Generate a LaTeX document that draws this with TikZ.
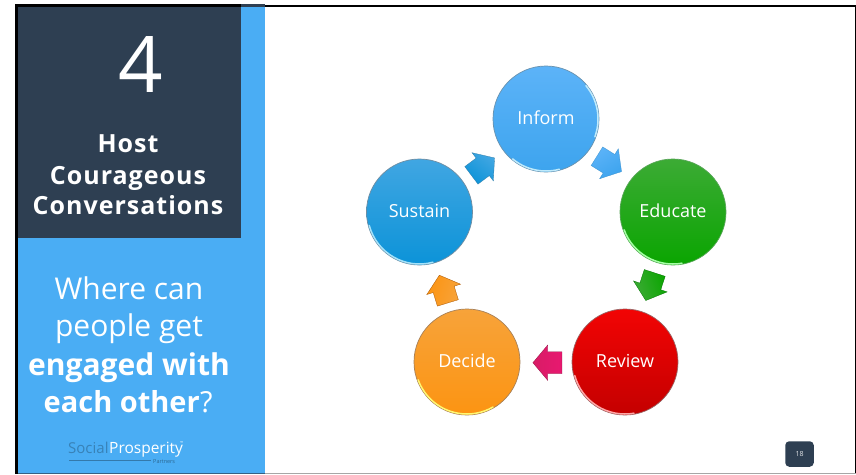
\documentclass[tikz,border=0pt]{standalone}
\usepackage{fontspec}
\setmainfont{Open Sans}
\usetikzlibrary{shapes.arrows}
\definecolor{navy}{HTML}{2E3F52}
\definecolor{sky}{HTML}{4AADF4}
\definecolor{informtop}{HTML}{5CB3F8}
\definecolor{informbot}{HTML}{3DA4EE}
\definecolor{sustaintop}{HTML}{40A6E2}
\definecolor{sustainbot}{HTML}{0C93D8}
\definecolor{educatetop}{HTML}{3CAB35}
\definecolor{educatebot}{HTML}{0AA500}
\definecolor{reviewtop}{HTML}{F20404}
\definecolor{reviewbot}{HTML}{C40000}
\definecolor{decidetop}{HTML}{F7A33A}
\definecolor{decidebot}{HTML}{FC9412}
\definecolor{pinktail}{HTML}{D81C66}
\definecolor{pinktip}{HTML}{E81870}
\newcommand\balltext[1]{\raisebox{-5.5pt}[0pt][0pt]{#1}}
\tikzset{
  x=1pt,y=-1pt,
  ball/.style={circle,minimum size=106pt,inner sep=0pt,draw=#1,line width=0.7pt,text=white,font=\fontsize{18}{20}\selectfont},
  blockarrow/.style={single arrow,anchor=tip,minimum height=29pt,inner xsep=0pt,inner ysep=10.8pt,single arrow head extend=6.7pt,single arrow head indent=0pt,single arrow tip angle=100,draw=#1,line width=0.3pt},
  rim/.style={line width=1.5pt,line cap=round},
  heading/.style={text=white,align=center,anchor=base,inner sep=0pt},
}
\begin{document}
\begin{tikzpicture}
\useasboundingbox (0,0) rectangle (856,474);
\fill[white] (0,0) rectangle (856,474);
% slide frame
\fill[sky] (17.5,7) rectangle (265,473);
\fill[navy] (17.5,7) rectangle (241,238);
\fill[black] (15,4) rectangle (241,7);
\fill[navy] (241,4) rectangle (265,7);
\fill[black] (265,4.5) rectangle (856,6.5);
\fill[black] (15,4) rectangle (17.5,474);
\fill[black] (855,4.5) rectangle (856,473);
\fill[gray!70] (265,473) rectangle (856,474);
\fill[navy!70!sky] (17.5,473) rectangle (265,474);
% left texts
\node[heading,font=\fontsize{78}{78}\selectfont] (num) at (141,92) {4};
\node[heading,font=\bfseries\addfontfeature{LetterSpace=4}\fontsize{25}{25}\selectfont] (t1) at (128,152) {Host};
\node[heading,font=\bfseries\addfontfeature{LetterSpace=4}\fontsize{25}{25}\selectfont] (t2) at (128,184) {Courageous};
\node[heading,font=\bfseries\addfontfeature{LetterSpace=4}\fontsize{25}{25}\selectfont] (t3) at (128,214) {Conversations};
\node[heading,font=\fontsize{30}{30}\selectfont] (q1) at (129,299) {Where can};
\node[heading,font=\fontsize{30}{30}\selectfont] (q2) at (129,336) {people get};
\node[heading,font=\bfseries\fontsize{30}{30}\selectfont] (q3) at (129,375.5) {engaged with};
\node[heading,anchor=base east,font=\bfseries\fontsize{29}{30}\selectfont] (q4) at (200,412) {each other};
\node[heading,anchor=base west,font=\fontsize{29}{30}\selectfont] (q5) at (q4.base east) {?};
% logo
\node[anchor=base west,inner sep=0pt,text=black!25!sky,font=\fontsize{15}{15}\selectfont] (lg1) at (68,453) {Social};
\node[anchor=base west,inner sep=0pt,text=white,font=\fontsize{15.5}{15}\selectfont] (lg2) at (109,453) {Prosperity};
\node[anchor=base west,inner sep=0pt,text=white,font=\fontsize{4}{4}\selectfont] (lg4) at (180,444) {™};
\node[anchor=base west,inner sep=0pt,text=black!40!sky,font=\fontsize{5.5}{6}\selectfont] (lg3) at (153,463) {Partners};
\fill[black!30!sky] (69,460.2) rectangle (151,461.2);
% cycle
\node[ball=gray!60!sky,top color=informtop,bottom color=informbot] (inform) at (546,119) {\balltext{Inform}};
\node[ball=gray!70!sky,top color=sustaintop,bottom color=sustainbot] (sustain) at (419.5,212) {\balltext{Sustain}};
\node[ball=gray!70!green,top color=educatetop,bottom color=educatebot] (educate) at (673,212) {\balltext{Educate}};
\node[ball=gray!80!red,top color=reviewtop,bottom color=reviewbot] (review) at (625,362) {\balltext{Review}};
\node[ball=gray!70!orange,top color=decidetop,bottom color=decidebot] (decide) at (467,362) {\balltext{Decide}};
% glossy rims (y axis points down, so these angles run clockwise on the page)
\draw[rim,cyan!35!white] (sustain.center) ++(165:52) arc (165:75:52);
\draw[rim,cyan!25!white] (inform.center) ++(20:52) arc (20:-40:52);
\draw[rim,cyan!25!white] (inform.center) ++(130:52) arc (130:75:52);
\draw[rim,green!35!white] (educate.center) ++(160:52) arc (160:80:52);
\draw[rim,red!35!white] (review.center) ++(165:52) arc (165:80:52);
\draw[rim,yellow!55!white] (decide.center) ++(160:52) arc (160:60:52);
% arrows between the circles
\node[blockarrow=sustaintop!75!black,rotate=37,top color=sustaintop,bottom color=sustainbot,shading angle=-37] (a1) at (494.7,157.8) {};
\node[blockarrow=sky!85!black,rotate=-32,top color=informtop,bottom color=informbot,shading angle=32] (a2) at (621.7,171.7) {};
\node[blockarrow=green!45!black,rotate=-108,top color=educatetop,bottom color=educatebot,shading angle=108] (a3) at (645.7,300.7) {};
\node[blockarrow=pinktail!70!black,rotate=180,left color=pinktail,right color=pinktip] (a4) at (532.7,362.7) {};
\node[blockarrow=orange!65!black,rotate=107,top color=decidetop,bottom color=decidebot,shading angle=-107] (a5) at (439.3,275) {};
% page badge
\node[rounded corners=4pt,fill=navy,minimum width=28.5pt,minimum height=25.5pt,inner sep=0pt,text=white!85!navy,font=\fontsize{7}{8}\selectfont] (page) at (799.5,454) {18};
\end{tikzpicture}
\end{document}
